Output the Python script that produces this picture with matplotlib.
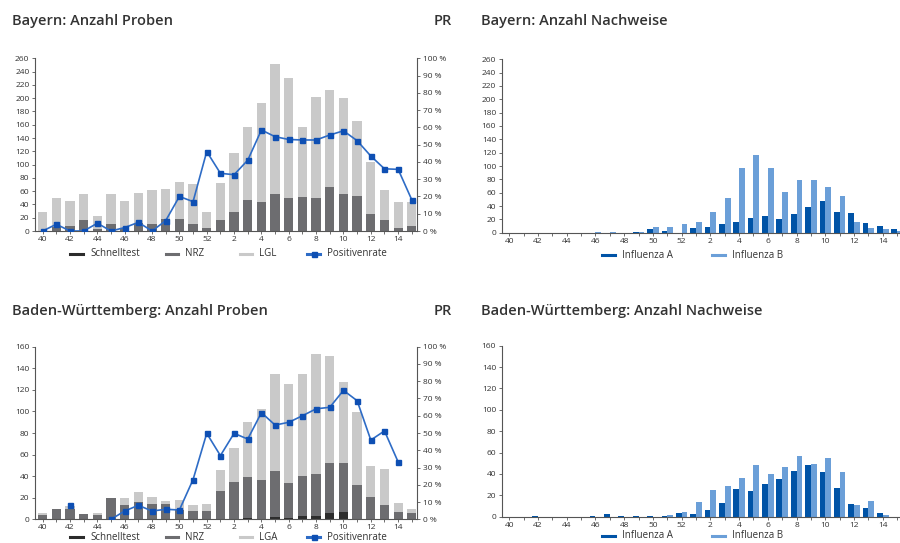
import numpy as np
import matplotlib.pyplot as plt
from matplotlib.lines import Line2D

plt.rcParams['font.family'] = ['Open Sans', 'DejaVu Sans']

weeks = list(range(40, 53)) + list(range(1, 16))
week_labels = [str(w) if w % 2 == 0 else '' for w in weeks]

# Bayern: Anzahl Proben
by_schnelltest = [0, 0, 0, 0, 0, 0, 0, 0, 0, 0, 0, 0, 0, 0,
                  0, 0, 0, 0, 0, 0, 0, 0, 0, 0, 0, 0, 0, 0]
by_nrz = [0, 6, 8, 16, 3, 10, 5, 12, 10, 18, 18, 10, 5, 16,
          28, 46, 43, 56, 49, 51, 49, 66, 56, 53, 25, 17, 5, 8]
by_lgl = [28, 44, 37, 40, 19, 46, 40, 45, 51, 45, 56, 61, 23, 56,
          89, 111, 150, 196, 182, 105, 153, 146, 144, 113, 79, 44, 39, 36]
by_pr = [0, 3.9, 0, 0, 4.5, 0, 2, 5, 0, 6, 20, 17, 46, 33.4,
         32.6, 41, 58.5, 54.6, 53, 52.7, 52.7, 55.6, 58, 52.3, 43.4, 36, 35.7, 18]

# Baden-Württemberg: Anzahl Proben
bw_schnelltest = [0, 0, 0, 0, 0, 0, 0, 0, 0, 0, 0, 0, 0, 0,
                  0, 1.5, 0, 2, 1.5, 3.5, 3.5, 6, 7, 0, 0, 0, 0, 0]
bw_nrz = [4, 10, 10, 5, 4, 19.5, 13, 16, 14, 14, 9, 7.5, 8, 26,
          35, 37.5, 36, 42.5, 32.5, 37, 38.5, 46.5, 45, 31.5, 20.5, 13, 7, 6]
bw_lga = [2, 0, 2, 0, 2, 0.5, 6.5, 9, 7, 3, 9, 5.5, 6, 20,
          31, 51, 66, 90.5, 91, 94.5, 111, 98.5, 75, 68, 29, 34, 8, 4]
bw_pr = [np.nan, np.nan, 8.3, np.nan, np.nan, 0, 4.8, 8.1, 4.8, 5.8, 5.4, 23, 49.8, 36.9,
         49.8, 46.5, 61.8, 54.6, 56.2, 60, 64, 64.9, 74.7, 68.7, 45.9, 51.2, 33.2, np.nan]

# Anzahl Nachweise
by_infa = [0, 0, 0, 0, 0, 0, 0, 0, 0, 1, 6, 3, 0, 6.5,
           8, 13, 16.5, 21.5, 25, 20.5, 28, 38, 47, 31.5, 29.5, 14, 10, 5.5]
by_infb = [0, 0, 0, 0, 0, 0, 0.5, 1.5, 0, 1, 9, 9, 13, 16.5,
           30.5, 52, 96.5, 116.5, 97.5, 61.5, 79, 79.5, 68, 55, 15.5, 7.5, 5.5, 3]
bw_infa = [0, 0, 0.5, 0, 0, 0, 0.5, 2.2, 0.5, 0.5, 0.5, 0.5, 3, 2.5,
           6.5, 12.5, 26, 24, 30.5, 35.5, 43, 48, 42, 26.5, 11.5, 8.5, 3, 0]
bw_infb = [0, 0, 0, 0, 0, 0, 0, 0, 0, 0, 0, 1.5, 4, 13.5,
           25, 28.5, 36.5, 48, 40, 46.5, 57, 49.5, 54.5, 41.5, 10.5, 14.5, 2, 0]

C_SCHNELL = '#2c2c2c'
C_NRZ = '#6d6d70'
C_LAB = '#c9c9c9'
C_LINE = '#2e6cc6'
C_MARK = '#0e4fb3'
C_A = '#0053a6'
C_B = '#6b9fd8'
C_TXT = '#333333'
C_AX = '#555555'

W, H = 900, 543
fig = plt.figure(figsize=(9, 5.43), dpi=100)


def px_axes(x0, y0, x1, y1):
    return fig.add_axes([x0 / W, 1 - y1 / H, (x1 - x0) / W, (y1 - y0) / H])


def style(ax, ymax):
    x = np.arange(len(weeks))
    for s in ['top', 'right']:
        ax.spines[s].set_visible(False)
    for s in ['left', 'bottom']:
        ax.spines[s].set_color(C_AX)
        ax.spines[s].set_linewidth(0.8)
    ax.set_ylim(0, ymax)
    ax.set_yticks(np.arange(0, ymax + 1, 20))
    ax.set_xticks(x)
    ax.set_xticklabels(week_labels)
    ax.tick_params(axis='both', direction='out', length=2.5, width=0.6,
                   colors=C_AX, labelcolor=C_TXT, labelsize=6, pad=1.5)
    ax.tick_params(axis='x', length=2)
    ax.set_facecolor('none')


def proben(ax, schnell, nrz, lab, pr, ymax):
    x = np.arange(len(weeks))
    s = np.array(schnell)
    n = np.array(nrz)
    ax.bar(x, s, width=0.68, color=C_SCHNELL)
    ax.bar(x, n, bottom=s, width=0.68, color=C_NRZ)
    ax.bar(x, lab, bottom=s + n, width=0.68, color=C_LAB)
    ax.set_xlim(-0.56, 27.4)
    style(ax, ymax)
    ax2 = ax.twinx()
    ax2.plot(x, pr, color=C_LINE, lw=1.2, marker='s', ms=3.6,
             mfc=C_MARK, mec=C_MARK)
    ax2.set_ylim(0, 100)
    ax2.set_xlim(-0.56, 27.4)
    ax2.set_yticks(range(0, 101, 10))
    ax2.set_yticklabels([f'{v} %' for v in range(0, 101, 10)])
    for s_ in ['top', 'left', 'bottom']:
        ax2.spines[s_].set_visible(False)
    ax2.spines['right'].set_color(C_AX)
    ax2.spines['right'].set_linewidth(0.8)
    ax2.tick_params(axis='y', direction='out', length=2.5, width=0.6,
                    colors=C_AX, labelcolor=C_TXT, labelsize=6, pad=1.5)


def nachweise(ax, infa, infb, ymax):
    x = np.arange(len(weeks))
    ax.bar(x - 0.2, infa, width=0.4, color=C_A)
    ax.bar(x + 0.2, infb, width=0.4, color=C_B)
    ax.set_xlim(-0.53, 27.2)
    style(ax, ymax)


ax1 = px_axes(35, 58.3, 417.3, 231)
proben(ax1, by_schnelltest, by_nrz, by_lgl, by_pr, 260)
ax3 = px_axes(35, 346.7, 417.3, 519.3)
proben(ax3, bw_schnelltest, bw_nrz, bw_lga, bw_pr, 160)
ax2 = px_axes(501.7, 59.3, 900, 232.7)
nachweise(ax2, by_infa, by_infb, 260)
ax4 = px_axes(501.7, 345.7, 900, 516.7)
nachweise(ax4, bw_infa, bw_infb, 160)

title_kw = dict(fontsize=10.5, fontweight='semibold', color=C_TXT, va='center')
fig.text(12 / W, 1 - 21 / H, 'Bayern: Anzahl Proben', **title_kw)
fig.text(452 / W, 1 - 21 / H, 'PR', ha='right', **title_kw)
fig.text(481 / W, 1 - 21 / H, 'Bayern: Anzahl Nachweise', **title_kw)
fig.text(12 / W, 1 - 311 / H, 'Baden-Württemberg: Anzahl Proben', **title_kw)
fig.text(452 / W, 1 - 311 / H, 'PR', ha='right', **title_kw)
fig.text(481 / W, 1 - 311 / H, 'Baden-Württemberg: Anzahl Nachweise', **title_kw)


def legend_row(items, y):
    yf = 1 - y / H
    for x0, x1, color, label, marker in items:
        fig.add_artist(Line2D([x0 / W, x1 / W], [yf, yf], color=color, lw=2.2,
                              transform=fig.transFigure))
        if marker:
            fig.add_artist(Line2D([(x0 + x1) / 2 / W], [yf], marker='s', ms=3.6,
                                  color=C_MARK, transform=fig.transFigure))
        fig.text((x1 + 7) / W, yf, label, fontsize=7, color=C_TXT, va='center')


legend_row([(70, 83, C_SCHNELL, 'Schnelltest', False),
            (166, 178, C_NRZ, 'NRZ', False),
            (240, 252, C_LAB, 'LGL', False),
            (307, 320, C_LINE, 'Positivenrate', True)], 254)
legend_row([(70, 83, C_SCHNELL, 'Schnelltest', False),
            (166, 178, C_NRZ, 'NRZ', False),
            (240, 252, C_LAB, 'LGA', False),
            (307, 320, C_LINE, 'Positivenrate', True)], 537)
legend_row([(602, 615, C_A, 'Influenza A', False),
            (712, 725, C_B, 'Influenza B', False)], 255)
legend_row([(602, 615, C_A, 'Influenza A', False),
            (712, 725, C_B, 'Influenza B', False)], 536)

fig.savefig('out.png', dpi=100)
